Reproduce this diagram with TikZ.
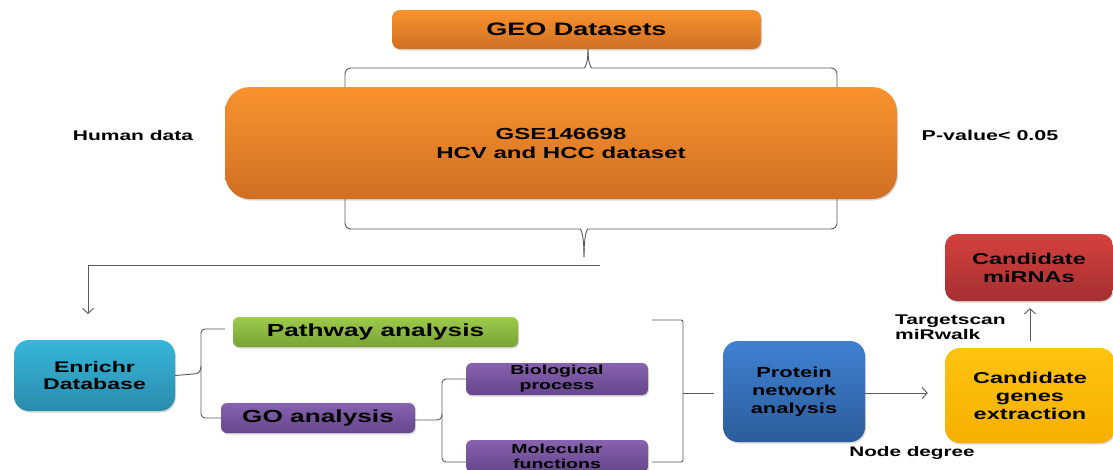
\documentclass[tikz,border=0pt]{standalone}
\usepackage{fontspec}
\newfontfamily\wf{Liberation Sans Bold}[FakeStretch=1.5]
\usetikzlibrary{arrows.meta,shadows}
\definecolor{orT}{HTML}{F9932F}
\definecolor{orB}{HTML}{D06F22}
\definecolor{cyT}{HTML}{37B6DB}
\definecolor{cyB}{HTML}{2A8BAC}
\definecolor{grT}{HTML}{9DCB4B}
\definecolor{grB}{HTML}{78A236}
\definecolor{puT}{HTML}{8762AE}
\definecolor{puB}{HTML}{66468C}
\definecolor{blT}{HTML}{3F82D2}
\definecolor{blB}{HTML}{2C5C9A}
\definecolor{yeT}{HTML}{FFC311}
\definecolor{yeB}{HTML}{F5B000}
\definecolor{reT}{HTML}{D5413D}
\definecolor{reB}{HTML}{A52F31}
\definecolor{lineC}{HTML}{5A5A5A}
\newcommand\fs[2]{\wf\fontsize{#1}{#2}\selectfont}
\begin{document}
\begin{tikzpicture}[x=1pt,y=-1pt,
  box/.style={rounded corners=#1, align=center, inner sep=0pt, text=black,
    drop shadow={shadow xshift=1pt, shadow yshift=-1.5pt, opacity=0.3}},
  conn/.style={draw=lineC, line width=0.9pt},
  tip/.style={-{Straight Barb[length=5pt,width=11pt]}},
  lbl/.style={inner sep=0pt, text=black, align=left}]
\useasboundingbox (0,0) rectangle (1113,469);
\fill[white] (0,0) rectangle (1113,469);

% boxes
\node[box=8pt, top color=orT, bottom color=orB, minimum width=369pt, minimum height=39pt, font=\fs{18}{22}] (geo) at (576.5,29.5) {GEO Datasets};
\node[box=25pt, top color=orT, bottom color=orB, minimum width=672pt, minimum height=112pt, font=\fs{16}{19}] (gse) at (561,143) {GSE146698\\HCV and HCC dataset};
\node[box=15pt, top color=cyT, bottom color=cyB, minimum width=161pt, minimum height=71pt, font=\fs{15.4}{17}] (enr) at (94.5,375.5) {Enrichr\\Database};
\node[box=6pt, top color=grT, bottom color=grB, minimum width=285pt, minimum height=30pt, font=\fs{17.5}{20}] (path) at (375.5,332) {Pathway analysis};
\node[box=6pt, top color=puT, bottom color=puB, minimum width=194pt, minimum height=30pt, font=\fs{17.5}{20}] (go) at (318,418) {GO analysis};
\node[box=6pt, top color=puT, bottom color=puB, minimum width=182pt, minimum height=32pt, font=\fs{13}{15}] (bio) at (557,379) {Biological\\process};
\node[box=6pt, top color=puT, bottom color=puB, minimum width=182pt, minimum height=32pt, font=\fs{13}{15}] (mol) at (557,456) {Molecular\\functions};
\node[box=15pt, top color=blT, bottom color=blB, minimum width=142pt, minimum height=101pt, font=\fs{14.6}{18}] (prot) at (794,391.5) {Protein\\network\\analysis};
\node[box=15pt, top color=yeT, bottom color=yeB, minimum width=170pt, minimum height=95pt, font=\fs{15.7}{18}] (cg) at (1030,395.5) {Candidate\\genes\\extraction};
\node[box=12pt, top color=reT, bottom color=reB, minimum width=168pt, minimum height=67pt, font=\fs{15.7}{18}] (mir) at (1029,267.5) {Candidate\\miRNAs};

% labels
\node[lbl, font=\fs{14}{16}] (human) at (133,135) {Human data};
\node[lbl, font=\fs{14.3}{16}] (pval) at (990,135) {P-value< 0.05};
\node[lbl, font=\fs{14}{15}, anchor=west] (ts) at (895,327) {Targetscan\\miRwalk};
\node[lbl, font=\fs{13.8}{16}] (nd) at (912,453) {Node degree};

% top brace
\coordinate (gtip) at (588,49);
\draw[conn] (345,87) [rounded corners=6pt] -- (345,68) -- (578,68) [sharp corners] .. controls (585,68) and (588,64) .. (gtip);
\draw[conn] (837,87) [rounded corners=6pt] -- (837,68) -- (598,68) [sharp corners] .. controls (591,68) and (588,64) .. (gtip);

% bottom brace
\coordinate (btip) at (584,257);
\draw[conn] (345,199) [rounded corners=6pt] -- (345,229) -- (574,229) [sharp corners] .. controls (581,229) and (584,235) .. (btip);
\draw[conn] (837,199) [rounded corners=6pt] -- (837,229) -- (594,229) [sharp corners] .. controls (587,229) and (584,235) .. (btip);

% line to Enrichr
\coordinate (hl) at (600,265);
\coordinate (ea) at (88,314);
\draw[conn, tip] (hl) -| (ea);

% Enrichr brace
\draw[conn] (enr.east) -- (193,374) .. controls (198,374) and (201,372) .. (201,366);
\draw[conn] (225,329) [rounded corners=4pt] -- (201,329) -- (201,418) -- (go.west);

% GO brace
\draw[conn] (go.east |- 0,420) -- (436,420) .. controls (440,420) and (442,418) .. (442,414);
\draw[conn] (bio.west) [rounded corners=4pt] -- (442,379) -- (442,462) -- (466,462);

% right bracket
\draw[conn] (652,320) [rounded corners=2pt] -- (683,320) -- (683,462) -- (652,462);
\coordinate (pw) at (714,393);
\draw[conn] (683,393) -- (pw);

% arrows
\draw[conn, tip] (prot.east |- 0,393) -- ([xshift=-17pt]cg.west |- 0,393);
\draw[conn, tip] ([yshift=7pt]cg.north -| 1030,0) -- ([yshift=-7pt]mir.south -| 1030,0);
\end{tikzpicture}
\end{document}
